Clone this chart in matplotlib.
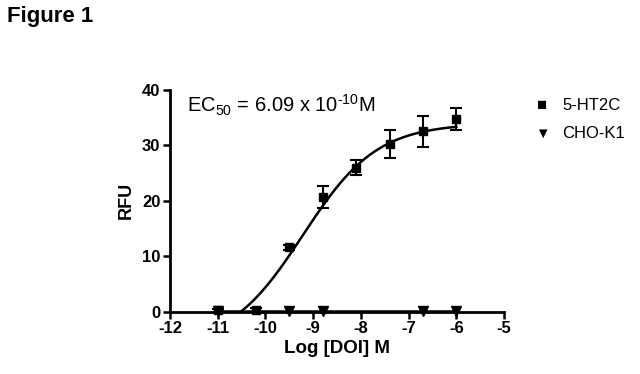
import numpy as np
import matplotlib
matplotlib.use("Agg")
import matplotlib.pyplot as plt

plt.rcParams['font.family'] = ['Liberation Sans', 'DejaVu Sans']
plt.rcParams['mathtext.fontset'] = 'custom'
plt.rcParams['mathtext.rm'] = 'Liberation Sans'
plt.rcParams['mathtext.it'] = 'Liberation Sans'

# 5-HT2C response (mean +/- error), log molar DOI
ht2c_x = [-11.0, -10.2, -9.5, -8.8, -8.1, -7.4, -6.7, -6.0]
ht2c_y = [0.2, 0.3, 11.6, 20.7, 26.0, 30.3, 32.6, 34.8]
ht2c_err = [0.3, 0.3, 0.4, 2.0, 1.3, 2.5, 2.8, 2.0]

# CHO-K1 (parental cells), no response
cho_x = [-11.0, -9.5, -8.8, -6.7, -6.0]
cho_y = [0.1, 0.1, 0.1, 0.1, 0.1]

# 4PL fit parameters
log_ec50 = np.log10(6.09e-10)
fit_top = 34.0
fit_bottom = -6.4
fit_hill = 0.56

x_ticks = [-12, -11, -10, -9, -8, -7, -6, -5]
y_ticks = [0, 10, 20, 30, 40]


def four_pl(x):
    return fit_bottom + (fit_top - fit_bottom) / (1 + 10 ** ((log_ec50 - x) * fit_hill))


fig = plt.figure(figsize=(6.4, 3.74), dpi=100)
ax = fig.add_axes([0.2656, 0.167, 0.522, 0.592])

xs = np.linspace(-11, -6, 400)
ys = four_pl(xs)
ax.plot(xs[ys >= 0], ys[ys >= 0], color='black', lw=1.8)
ax.plot([min(cho_x), max(cho_x)], [0.1, 0.1], color='black', lw=1.8, clip_on=False)

ax.errorbar(ht2c_x, ht2c_y, yerr=ht2c_err, fmt='s', color='black', ms=6,
            capsize=4.5, elinewidth=1.5, capthick=1.5, clip_on=False, zorder=5)
ax.plot(cho_x, cho_y, 'v', color='black', ms=6.5, clip_on=False, zorder=5)

ax.set_xlim(-12, -5)
ax.set_ylim(0, 40)
ax.set_xticks(x_ticks)
ax.set_yticks(y_ticks)
ax.set_xticklabels([str(t) for t in x_ticks], fontweight='bold', fontsize=12)
ax.set_yticklabels([str(t) for t in y_ticks], fontweight='bold', fontsize=12)
ax.tick_params(direction='out', length=5, width=1.8, pad=2)

for s in ['top', 'right']:
    ax.spines[s].set_visible(False)
for s in ['left', 'bottom']:
    ax.spines[s].set_linewidth(2)

ax.set_xlabel('Log [DOI] M', fontweight='bold', fontsize=13.5, labelpad=3)
ax.set_ylabel('RFU', fontweight='bold', fontsize=13, labelpad=5)

ax.text(-11.64, 36.0, r'EC$_{50}$ = 6.09 x 10$^{\text{-10}}$M', fontsize=14.5)

# legend drawn by hand at the right side
fig.text(0.847, 0.719, '\u25A0', fontsize=12, ha='center', va='center')
fig.text(0.879, 0.719, '5-HT2C', fontsize=12, va='center')
fig.text(0.847, 0.643, '\u25BC', fontsize=10.5, ha='center', va='center')
fig.text(0.879, 0.643, 'CHO-K1', fontsize=12, va='center')

fig.text(0.011, 0.941, 'Figure 1', fontsize=16, fontweight='bold')

fig.savefig('out.png', dpi=100)
